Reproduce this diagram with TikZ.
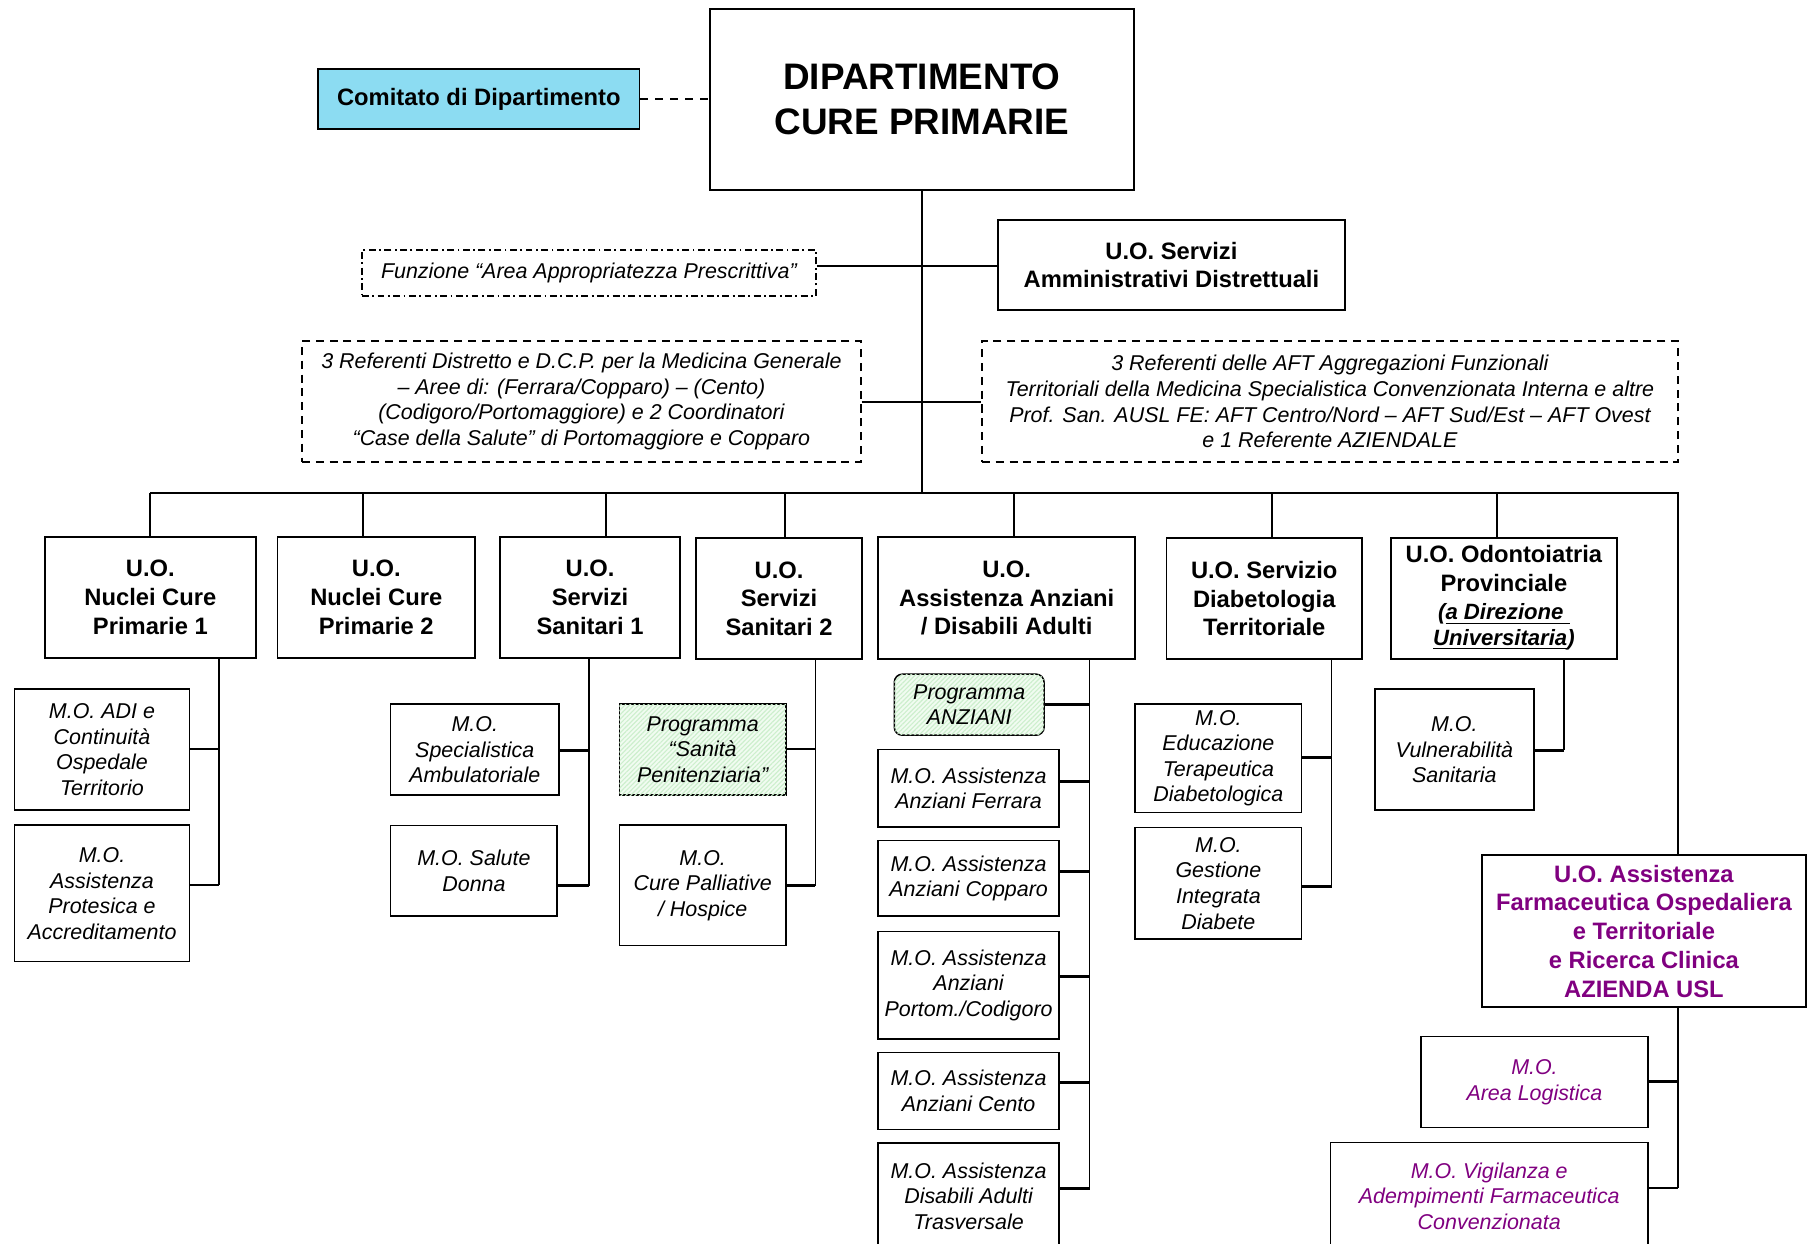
\documentclass[tikz,border=0pt]{standalone}
\usepackage{fontspec}
\setmainfont{Liberation Sans}
\usetikzlibrary{patterns.meta}
\definecolor{cyanbox}{HTML}{8CDCF2}
\definecolor{purp}{HTML}{800080}
\definecolor{hatchbg}{HTML}{F1FCF1}
\definecolor{hatchln}{HTML}{CDEFCD}
\newcommand\mkbox[7]{%
  \node[#1, minimum width={(#5-#3)*0.5pt}, minimum height={(#6-#4)*0.5pt}] (#2) at ({(#3+#5)/2},{(#4+#6)/2}) {#7};}
\newcommand\stub[3]{\draw[stubline] (#1.east |- 0,#3) -- (#2 |- 0,#3);}
\begin{document}
\begin{tikzpicture}[x=0.5pt,y=-0.5pt,
  box/.style={draw, line width=0.65pt, inner sep=0pt, align=center},
  boldt/.style={font=\fontsize{10.3}{12.5}\selectfont\bfseries},
  italt/.style={font=\fontsize{9.3}{11.1}\selectfont\itshape},
  maint/.style={font=\fontsize{16}{19.5}\selectfont\bfseries},
  hatch/.style={fill=hatchbg, postaction={pattern={Lines[angle=45,distance=1.4pt,line width=0.5pt]}, pattern color=hatchln}},
  refdash/.style={dash pattern=on 3.5pt off 2.5pt},
  dashdot/.style={dash pattern=on 3pt off 1.5pt on 0.8pt off 1.5pt},
  trunk/.style={line width=0.7pt},
  dropline/.style={line width=0.75pt},
  dropthick/.style={line width=1.05pt},
  stubline/.style={line width=1.15pt},
  busline/.style={line width=1.05pt},
  purpt/.style={text=purp},
]
\useasboundingbox (0,0) rectangle (1568,1079);
\clip (0,0) rectangle (1568,1079);

% ---------- top ----------
\mkbox{box,maint}{dept}{616}{8}{984}{165}{DIPARTIMENTO\\CURE PRIMARIE}
\mkbox{box,boldt,fill=cyanbox}{com}{276}{60}{555}{112}{Comitato di Dipartimento}
\mkbox{box,italt,dashdot}{funz}{314}{217}{708}{257}{Funzione “Area Appropriatezza Prescrittiva”}
\mkbox{box,boldt}{serv}{866}{191}{1167}{269}{U.O. Servizi\\Amministrativi Distrettuali}
\mkbox{box,italt,refdash}{refL}{262}{296}{747}{401}{3 Referenti Distretto e D.C.P. per la Medicina Generale\\– Aree di: (Ferrara/Copparo) – (Cento)\\(Codigoro/Portomaggiore) e 2 Coordinatori\\“Case della Salute” di Portomaggiore e Copparo}
\mkbox{box,italt,refdash}{refR}{852}{296}{1456}{401}{3 Referenti delle AFT Aggregazioni Funzionali\\Territoriali della Medicina Specialistica Convenzionata Interna e altre\\Prof. San. AUSL FE: AFT Centro/Nord – AFT Sud/Est – AFT Ovest\\e 1 Referente AZIENDALE}

% ---------- U.O. row ----------
\mkbox{box,boldt}{ncp1}{39}{466}{222}{571}{U.O.\\Nuclei Cure\\Primarie 1}
\mkbox{box,boldt}{ncp2}{241}{466}{412}{571}{U.O.\\Nuclei Cure\\Primarie 2}
\mkbox{box,boldt}{ss1}{434}{466}{590}{571}{U.O.\\Servizi\\Sanitari 1}
\mkbox{box,boldt}{ss2}{604}{467}{748}{572}{U.O.\\Servizi\\Sanitari 2}
\mkbox{box,boldt}{anz}{762}{466}{985}{572}{U.O.\\Assistenza Anziani\\/ Disabili Adulti}
\mkbox{box,boldt}{dia}{1012}{467}{1182}{572}{U.O. Servizio\\Diabetologia\\Territoriale}
\mkbox{box,boldt,text depth=3pt}{odo}{1207}{467}{1403}{572}{U.O. Odontoiatria\\Provinciale\\{\fontsize{9.6}{11}\selectfont\itshape(\underline{a Direzione\ }}\\[-1.5pt]{\fontsize{9.6}{11}\selectfont\itshape\underline{Universitaria})}}
\mkbox{box,boldt,purpt}{farm}{1286}{742}{1567}{874}{U.O. Assistenza\\Farmaceutica Ospedaliera\\e Territoriale\\e Ricerca Clinica\\AZIENDA USL}

% ---------- M.O. boxes ----------
\mkbox{box,italt}{adi}{12.5}{598}{164.5}{703}{M.O. ADI e\\Continuità\\Ospedale\\Territorio}
\mkbox{box,italt}{prot}{12.5}{716}{164.5}{834.5}{M.O.\\Assistenza\\Protesica e\\Accreditamento}
\mkbox{box,italt}{spec}{339}{611}{485}{690}{M.O.\\Specialistica\\Ambulatoriale}
\mkbox{box,italt}{donna}{339}{716.5}{483.5}{795}{M.O. Salute\\Donna}
\mkbox{box,italt,hatch}{pen}{537.5}{611}{682}{690}{Programma\\“Sanità\\Penitenziaria”}
\mkbox{box,italt}{pall}{537.5}{716}{682}{820.5}{M.O.\\Cure Palliative\\/ Hospice}
\mkbox{box,italt,hatch,rounded corners=3.5pt}{panz}{776}{585}{906}{638}{Programma\\ANZIANI}
\mkbox{box,italt}{fer}{762}{650.5}{919}{717.5}{M.O. Assistenza\\Anziani Ferrara}
\mkbox{box,italt}{cop}{762}{729.5}{919}{795}{M.O. Assistenza\\Anziani Copparo}
\mkbox{box,italt}{por}{762}{808.5}{919}{901.5}{M.O. Assistenza\\Anziani\\Portom./Codigoro}
\mkbox{box,italt}{cen}{762}{913.5}{919}{980}{M.O. Assistenza\\Anziani Cento}
\mkbox{box,italt}{dis}{762}{992}{919}{1084}{M.O. Assistenza\\Disabili Adulti\\Trasversale}
\mkbox{box,italt}{edu}{985}{611}{1129.5}{705}{M.O.\\Educazione\\Terapeutica\\Diabetologica}
\mkbox{box,italt}{ges}{985}{718}{1129.5}{815}{M.O.\\Gestione\\Integrata\\Diabete}
\mkbox{box,italt}{vul}{1193}{598}{1331}{703}{M.O.\\Vulnerabilità\\Sanitaria}
\mkbox{box,italt,purpt}{log}{1233}{899.5}{1430}{978.5}{M.O.\\Area Logistica}
\mkbox{box,italt,purpt}{vig}{1154.5}{991.5}{1430}{1084.5}{M.O. Vigilanza e\\Adempimenti Farmaceutica\\Convenzionata}

% ---------- connectors top ----------
\coordinate (busL) at (130,428);
\coordinate (busR) at (1456,428);
\draw[busline] (dept.south) -- (dept.south |- busL);
\draw[dashed, line width=0.65pt, dash pattern=on 3.5pt off 3pt] (com.east) -- (com.east -| dept.west);
\draw[busline] (funz.east |- 0,231) -- (serv.west |- 0,231);
\draw[busline] (refL.east |- 0,349) -- (refR.west |- 0,349);
\draw[busline] (busL) -- (busR) -- (busR |- farm.north);

% drops
\draw[dropline] (busL) -- (busL |- ncp1.north);
\draw[dropthick] (315,428) -- (ncp2.north -| 315,428);
\draw[dropline] (526,428) -- (ss1.north -| 526,428);
\draw[dropthick] (681,428) -- (ss2.north -| 681,428);
\draw[dropline] (880,428) -- (anz.north -| 880,428);
\draw[dropline] (1104,428) -- (dia.north -| 1104,428);
\draw[dropline] (1299,428) -- (odo.north -| 1299,428);

% ---------- trunks and stubs ----------
\coordinate (t1) at (190,768);
\draw[trunk] (t1 |- ncp1.south) -- (t1);
\stub{adi}{t1}{650}
\stub{prot}{t1}{768}

\coordinate (t3) at (511,768.5);
\draw[trunk] (t3 |- ss1.south) -- (t3);
\stub{spec}{t3}{651}
\stub{donna}{t3}{768.5}

\coordinate (t4) at (707.5,768.5);
\draw[trunk] (t4 |- ss2.south) -- (t4);
\stub{pen}{t4}{650}
\stub{pall}{t4}{768.5}

\coordinate (t5) at (945.5,1031.5);
\draw[trunk] (t5 |- anz.south) -- (t5);
\stub{panz}{t5}{611.5}
\stub{fer}{t5}{678}
\stub{cop}{t5}{756}
\stub{por}{t5}{847.5}
\stub{cen}{t5}{939.5}
\stub{dis}{t5}{1031.5}

\coordinate (t6) at (1155.5,769);
\draw[trunk] (t6 |- dia.south) -- (t6);
\stub{edu}{t6}{657.5}
\stub{ges}{t6}{769}

\coordinate (t7) at (1357,651);
\draw[trunk] (t7 |- odo.south) -- (t7);
\stub{vul}{t7}{651}

\coordinate (t8) at (1456,1031);
\draw[trunk] (t8 |- farm.south) -- (t8);
\stub{log}{t8}{938.5}
\stub{vig}{t8}{1031}
\end{tikzpicture}
\end{document}
